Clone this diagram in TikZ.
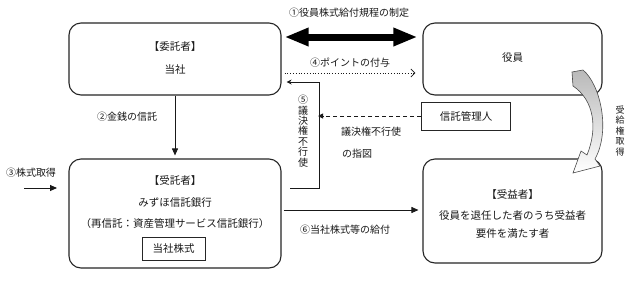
\documentclass[tikz,border=0pt]{standalone}
\usepackage{fontspec}
\setmainfont{Noto Sans CJK JP}
\usetikzlibrary{arrows.meta}
\begin{document}
\begin{tikzpicture}[x=1pt,y=-1pt,
  rbox/.style={draw=black!85, line width=1.1pt, rounded corners=12pt, inner sep=0pt},
  sbox/.style={draw=black!85, line width=0.9pt, inner sep=0pt},
  txt/.style={inner sep=0pt, font=\fontsize{10.5}{12}\selectfont, text=black!90},
  lbl/.style={inner sep=0pt, font=\fontsize{10}{12}\selectfont, text=black!90},
  vtxt/.style={inner sep=0pt, align=center, text=black!90},
  conn/.style={draw=black!90, line width=0.9pt},
  tri/.style={-{Triangle[length=7pt,width=6pt]}}
]
\useasboundingbox (0,0) rectangle (638,301);
\fill[white] (0,0) rectangle (638,301);

% boxes
\node[rbox, minimum width=212pt, minimum height=72pt] (itaku) at (175,59) {};
\node[rbox, minimum width=179pt, minimum height=72pt] (yakuin) at (512.5,59) {};
\node[rbox, minimum width=212pt, minimum height=109pt] (jutaku) at (175,213.5) {};
\node[rbox, minimum width=179pt, minimum height=104pt] (juekisha) at (512.5,211) {};
\node[sbox, minimum width=89pt, minimum height=28pt] (kanri) at (466,116) {};
\node[sbox, minimum width=63pt, minimum height=23pt] (kabu) at (173.5,248.5) {};

% texts in boxes
\node[txt] (itakuA) at (175,47) {【委託者】};
\node[txt] (itakuB) at (175,70) {当社};
\node[txt] (yakuinA) at (512.5,58) {役員};
\node[txt] (jutakuA) at (175,181) {【受託者】};
\node[txt] (jutakuB) at (175,203) {みずほ信託銀行};
\node[txt] (jutakuC) at (175,224) {（再信託：資産管理サービス信託銀行）};
\node[txt] (kabuT) at (kabu.center) {当社株式};
\node[txt] (kanriT) at (kanri.center) {信託管理人};
\node[txt] (juekiA) at (512.5,195) {【受益者】};
\node[txt] (juekiB) at (512.5,215) {役員を退任した者のうち受益者};
\node[txt] (juekiC) at (512.5,234) {要件を満たす者};

% labels
\node[lbl] (l1) at (349,13) {①役員株式給付規程の制定};
\node[lbl] (l4) at (350,63) {④ポイントの付与};
\node[lbl] (l2) at (127,117) {②金銭の信託};
\node[lbl] (l3) at (31,173) {③株式取得};
\node[lbl] (l6) at (345,230) {⑥当社株式等の給付};
\node[lbl, anchor=west] (l7a) at (341,132) {議決権不行使};
\node[lbl, anchor=west] (l7b) at (342,154) {の指図};
\node[vtxt, font=\fontsize{10}{10.4}\selectfont] (l5) at (303,131) {⑤\\議\\決\\権\\不\\行\\使};
\node[vtxt, font=\fontsize{9}{10.5}\selectfont] (l8) at (620,131) {受\\給\\権\\取\\得};

% coordinates
\coordinate (y37) at (0,37);
\coordinate (y73) at (0,73);
\coordinate (y82) at (0,82);
\coordinate (y116) at (0,116);
\coordinate (y188) at (0,188);
\coordinate (y210) at (0,210);
\coordinate (s3a) at (24,188);
\coordinate (s3b) at (57,188);
\coordinate (p5a) at (290,188);
\coordinate (p5b) at (319,188);
\coordinate (p5c) at (319,82);
\coordinate (d7) at (322,116);

% ① double arrow
\draw[line width=7pt, {Triangle[length=24pt,width=17pt]}-{Triangle[length=24pt,width=17pt]}]
  ([xshift=3pt]itaku.east |- y37) -- ([xshift=-5pt]yakuin.west |- y37);

% ④ dotted
\draw[conn, line width=0.8pt, dotted, -{Straight Barb[length=4pt,width=8pt]}]
  ([xshift=3pt]itaku.east |- y73) -- ([xshift=-7pt]yakuin.west |- y73);

% ② money trust
\draw[conn, tri] (itaku.south) -- ([yshift=3pt]jutaku.north);

% ③ share acquisition
\draw[conn, tri] (s3a) -- (s3b);

% ⑤ voting
\draw[conn, -{Stealth[length=5pt,width=5pt]}] (p5a) -- (p5b) -- (p5c) -- ([xshift=5pt]itaku.east |- y82);

% dashed instruction
\draw[conn, dashed, dash pattern=on 4pt off 3pt, -{Triangle[length=5pt,width=5pt]}] (kanri.west |- y116) -- ([xshift=-4pt]d7);

% ⑥ delivery
\draw[conn, tri] ([xshift=2pt]jutaku.east |- y210) -- ([xshift=-4pt]juekisha.west |- y210);

% curved block arrow
\shade[top color=gray!55, bottom color=white, draw=black!70, line width=0.6pt]
  (572,72) -- (583,70)
  .. controls (600,84) and (611,130) .. (595,159)
  -- (600,166) -- (573,173) -- (581,151) -- (587,155)
  .. controls (598,128) and (594,100) .. (573,86) -- cycle;
\end{tikzpicture}
\end{document}
